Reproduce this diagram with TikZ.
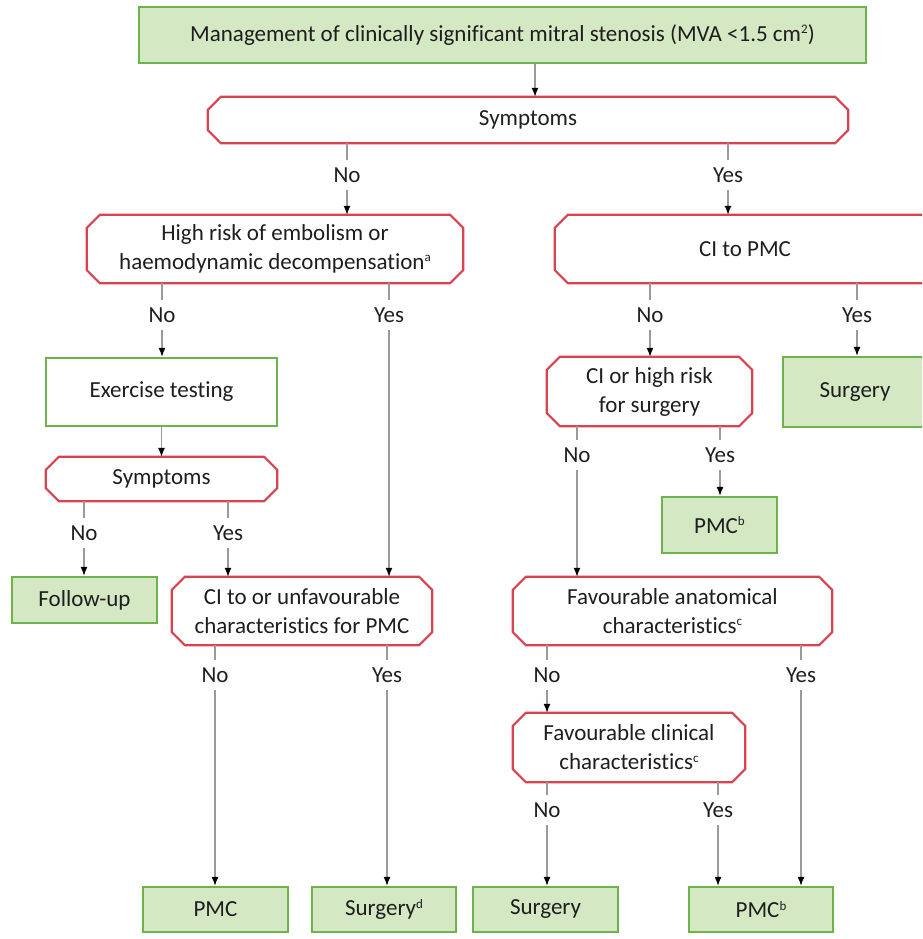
\documentclass[tikz,border=0pt]{standalone}
\usepackage{fontspec}
\setmainfont{Carlito}[Ligatures=NoCommon]
\usetikzlibrary{arrows.meta,calc}
\definecolor{gfill}{HTML}{D5E8C4}
\definecolor{gline}{HTML}{6DB24A}
\definecolor{rline}{HTML}{D9434E}
\definecolor{cline}{HTML}{9A9A9A}
\definecolor{txt}{HTML}{1E1E1E}
\newcommand\supmark[1]{\raisebox{0.7ex}{\fontsize{13}{13}\selectfont #1}}
\tikzset{
  gbox/.style={rectangle, draw=gline, fill=gfill, line width=2.2pt, inner sep=0pt, align=center},
  wbox/.style={rectangle, draw=gline, fill=white, line width=2.2pt, inner sep=0pt, align=center},
  hbox/.style={rectangle, inner sep=0pt, align=center},
  lab/.style={inner sep=0pt, minimum height=30pt},
  ln/.style={draw=cline, line width=1.3pt},
  ar/.style={ln, -{Latex[length=9pt,width=7pt,color=black]}},
  hexline/.style={draw=rline, line width=2.2pt, line join=miter}
}
\begin{document}
\begin{tikzpicture}[x=1pt,y=-1pt,font=\fontsize{23}{29}\selectfont,text=txt]
\path[use as bounding box, clip] (0,0) rectangle (922,939);
% boxes
\node[gbox, minimum width=727pt, minimum height=56pt] (top) at (502.5,35) {Management of clinically significant mitral stenosis (MVA <1.5 cm\supmark{2})};
\node[hbox, minimum width=640pt, minimum height=46pt] (sym1) at (528,120) {Symptoms};
\node[hbox, minimum width=376pt, minimum height=68pt] (hr) at (275,249) {High risk of embolism or\\haemodynamic decompensation\supmark{a}};
\node[hbox, minimum width=380pt, minimum height=68pt] (ci) at (745,249) {CI to PMC};
\node[wbox, minimum width=231pt, minimum height=68pt] (ex) at (161.5,392) {Exercise testing};
\node[hbox, minimum width=231pt, minimum height=44pt] (sym2) at (161.5,479) {Symptoms};
\node[gbox, minimum width=145pt, minimum height=46pt] (fu) at (84.5,600) {Follow-up};
\node[hbox, minimum width=260pt, minimum height=68pt] (ciu) at (302,611) {CI to or unfavourable\\characteristics for PMC};
\node[hbox, minimum width=205pt, minimum height=69pt] (cihr) at (649.5,391.5) {CI or high risk\\for surgery};
\node[gbox, minimum width=144pt, minimum height=70pt] (surgR) at (855,392) {Surgery};
\node[gbox, minimum width=115pt, minimum height=56pt] (pmcb1) at (719.5,525) {PMC\supmark{b}};
\node[hbox, minimum width=319pt, minimum height=68pt] (fa) at (672.5,611) {Favourable anatomical\\characteristics\supmark{c}};
\node[hbox, minimum width=232pt, minimum height=69pt] (fc) at (629,747.5) {Favourable clinical\\characteristics\supmark{c}};
\node[gbox, minimum width=145pt, minimum height=45pt] (b1) at (215.5,909.5) {PMC};
\node[gbox, minimum width=144pt, minimum height=45pt] (b2) at (384,909.5) {Surgery\supmark{d}};
\node[gbox, minimum width=145pt, minimum height=45pt] (b3) at (545.5,909.5) {Surgery};
\node[gbox, minimum width=144pt, minimum height=45pt] (b4) at (761,909.5) {PMC\supmark{b}};
% chamfered outlines
\foreach \n in {sym1,hr,ci,sym2,ciu,cihr,fa,fc}{
  \draw[hexline] ([xshift=13pt]\n.north west) -- ([xshift=-13pt]\n.north east) -- ([yshift=-13pt]\n.north east)
    -- ([yshift=13pt]\n.south east) -- ([xshift=-13pt]\n.south east) -- ([xshift=13pt]\n.south west)
    -- ([yshift=13pt]\n.south west) -- ([yshift=-13pt]\n.north west) -- cycle;
}
% labels
\node[lab] (l1) at (347,175) {No};
\node[lab] (l2) at (728,175) {Yes};
\node[lab] (l3) at (162,315) {No};
\node[lab] (l4) at (389,315) {Yes};
\node[lab] (l5) at (650,315) {No};
\node[lab] (l6) at (857,315) {Yes};
\node[lab] (l7) at (84,533) {No};
\node[lab] (l8) at (228,533) {Yes};
\node[lab] (l9) at (577,455) {No};
\node[lab] (l10) at (720,455) {Yes};
\node[lab] (l11) at (215,675) {No};
\node[lab] (l12) at (387,675) {Yes};
\node[lab] (l13) at (547,675) {No};
\node[lab] (l14) at (801,675) {Yes};
\node[lab] (l15) at (547,810) {No};
\node[lab] (l16) at (718,810) {Yes};
% connectors
\draw[ar] ([xshift=32.5pt]top.south) -- ([xshift=32.5pt]top.south |- sym1.north);
\draw[ar] (ex.south) -- (sym2.north);
\foreach \s/\l/\t in {sym1/l1/hr, sym1/l2/ci, hr/l3/ex, hr/l4/ciu, ci/l5/cihr, ci/l6/surgR,
  sym2/l7/fu, sym2/l8/ciu, cihr/l9/fa, cihr/l10/pmcb1, ciu/l11/b1, ciu/l12/b2,
  fa/l13/fc, fa/l14/b4, fc/l15/b3, fc/l16/b4}{
  \draw[ln] (\s.south -| \l) -- (\l.north);
  \draw[ar] (\l.south) -- (\t.north -| \l);
}
\end{tikzpicture}
\end{document}
